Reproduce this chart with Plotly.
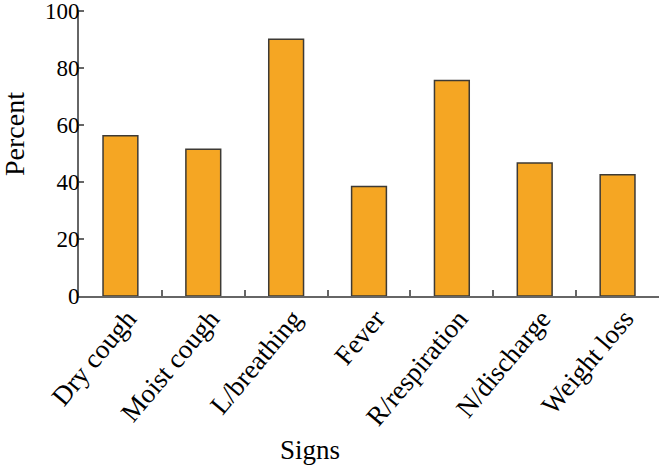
import plotly.graph_objects as go

signs = ["Dry cough", "Moist cough", "L/breathing", "Fever", "R/respiration", "N/discharge", "Weight loss"]
percent = [56.3, 51.6, 90.2, 38.5, 75.7, 46.7, 42.6]
y_ticks = [0, 20, 40, 60, 80, 100]

font_family = "Liberation Serif, Times New Roman, serif"

W, H = 666, 469
L, R, T, B = 79, 7, 10, 173
plot_w = W - L - R
plot_h = H - T - B

fig = go.Figure(
    go.Bar(
        x=signs,
        y=percent,
        marker=dict(color="#F5A623", line=dict(color="#3d3a35", width=1.5)),
    )
)

fig.update_layout(
    width=W,
    height=H,
    margin=dict(l=L, r=R, t=T, b=B, autoexpand=False),
    plot_bgcolor="white",
    paper_bgcolor="white",
    bargap=0.58,
    showlegend=False,
    font=dict(family=font_family, size=24, color="black"),
    annotations=[
        # axis titles placed by hand, the x one sits left of centre like the original
        dict(
            text="Signs",
            x=(310 - L) / plot_w,
            y=-(450 - (T + plot_h)) / plot_h,
            xref="paper",
            yref="paper",
            xanchor="center",
            yanchor="middle",
            showarrow=False,
            font=dict(size=27),
        ),
        dict(
            text="Percent",
            textangle=-90,
            x=-(L - 14) / plot_w,
            y=(T + plot_h - 134) / plot_h,
            xref="paper",
            yref="paper",
            xanchor="center",
            yanchor="middle",
            showarrow=False,
            font=dict(size=28),
        ),
    ],
)

fig.update_xaxes(
    automargin=False,
    showline=True,
    linecolor="#666666",
    linewidth=2,
    ticks="inside",
    tickson="boundaries",
    ticklen=6,
    tickwidth=2,
    tickcolor="#666666",
    tickangle=-50,
    ticklabelshift=7,
    ticklabelstandoff=-6,
    tickfont=dict(size=27),
    showgrid=False,
)

fig.update_yaxes(
    automargin=False,
    range=[0, 100.5],
    tickvals=y_ticks,
    showline=True,
    linecolor="#666666",
    linewidth=2,
    ticks="inside",
    ticklen=5,
    tickwidth=2,
    tickcolor="#666666",
    ticklabelstandoff=-7,
    ticklabeloverflow="allow",
    tickfont=dict(size=23),
    showgrid=False,
    zeroline=False,
)

# the page body has an 8px margin by default, drop it so the chart sits at 0,0
fig.write_html(
    "out.html",
    config={"displayModeBar": False},
    post_script="document.body.style.margin = '0';",
)
